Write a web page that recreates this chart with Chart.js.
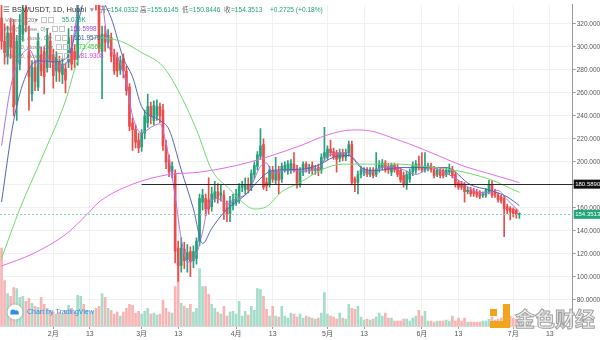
<!DOCTYPE html>
<html>
<head>
<meta charset="utf-8">
<script src="https://cdn.jsdelivr.net/npm/chart.js@4.4.1/dist/chart.umd.min.js"></script>
<style>
  html, body { margin: 0; padding: 0; background: #fff; }
  canvas { display: block; }
</style>
</head>
<body>
<canvas id="chart" width="600" height="340"></canvas>
<script>
const FONT = "'Liberation Sans', Arial, 'Noto Sans CJK SC', 'DejaVu Sans', sans-serif";

/* ===== BSV/USDT daily, Huobi — from 2020-01-15 ===== */
const opens = [
  325, 305, 292, 312, 319, 250, 285, 311, 334, 296,
  259, 282, 265, 293, 296, 282, 305, 293, 279, 287,
  276, 281, 287, 299, 296, 289, 345, 368, 362, 375,
  360, 366, 338, 296, 311, 304, 308, 293, 291, 280,
  290, 279, 265, 234, 228, 219, 213, 225, 234, 248,
  236, 240, 248, 245, 214, 202, 191, 190, 125, 110,
  124, 115, 122, 114, 116, 131, 165, 168, 167, 161,
  168, 174, 171, 171, 160, 155, 162, 165, 167, 178,
  176, 180, 178, 189, 196, 205, 215, 182, 181, 192,
  184, 192, 185, 194, 192, 193, 198, 194, 180, 191,
  198, 192, 197, 192.5, 195, 193, 204, 204, 211, 209,
  208, 203, 208, 204, 208, 215, 185, 182, 189, 191,
  192.5, 189, 192.5, 189, 194, 195, 199, 196, 191, 197,
  195, 192.5, 188, 180, 185, 191, 192.5, 198, 196, 193,
  194, 196.5, 193, 189, 193, 192.5, 189, 191, 193.5, 189,
  182, 181, 180.5, 174, 175.5, 174.5, 173.5, 173.7, 171, 171,
  174, 180.5, 173.5, 171, 169.5, 168, 161, 159.5, 159, 157.5,
  154.0332
];
const highs = [
  340, 320, 318, 325, 324, 310, 328, 342, 345, 318,
  288, 288, 312, 300, 300, 316, 312, 298, 296, 292,
  290, 286, 316, 310, 302, 360, 385, 392, 390, 385,
  380, 372, 342, 318, 318, 315, 312, 298, 295, 292,
  294, 283, 268, 238, 232, 225, 228, 245, 259, 252,
  253, 254, 251, 250, 219, 206, 200, 193, 131, 134,
  130, 128, 126, 127, 134, 172, 176, 172, 186, 178,
  183, 181, 180, 175, 166, 170, 172, 176, 181, 183,
  186, 186, 193, 200, 209, 229, 220, 186, 196, 196,
  204, 196, 199, 200, 201, 202, 208, 197, 195, 200,
  200, 198, 200, 197, 198, 207, 230, 214, 219, 212,
  210, 211, 211, 211, 218, 218, 187, 192, 196, 195,
  195, 195, 195, 208, 201, 202, 201, 199, 199, 199,
  198, 195, 191, 192, 194, 200, 201, 205, 208, 208,
  199, 199, 196, 195, 195, 194, 195, 198, 196, 191,
  184, 183, 182, 178, 178, 177, 176, 175, 174, 177,
  184, 184, 176, 173, 171, 170, 163, 161, 160, 159,
  155.6145
];
const lows = [
  298, 285, 285, 290, 240, 236, 280, 305, 313, 245,
  253, 262, 262, 275, 259, 278, 282, 264, 270, 270,
  268, 260, 282, 280, 282, 284, 338, 350, 352, 345,
  348, 332, 295, 255, 296, 299, 287, 276, 274, 276,
  273, 258, 227, 210, 212, 208, 209, 220, 230, 233,
  232, 236, 234, 210, 194, 187, 186, 112, 96, 104,
  107, 104, 100, 108, 111, 127, 158, 153, 155, 157,
  165, 164, 166, 150, 148, 148, 158, 162, 164, 174,
  172, 173, 175, 185, 193, 202, 176, 175, 178, 182,
  181, 172, 182, 191, 189, 190, 191, 177, 178, 188,
  191, 190, 189, 189, 188, 190, 201, 202, 205, 202,
  191, 200, 201, 201, 205, 180, 174, 172, 186, 188,
  187, 187, 186, 187, 191, 193, 191, 190, 188, 191,
  187, 182, 178, 176, 182, 188, 190, 193, 191, 191,
  192, 191, 186, 187, 186, 186, 187, 189, 186, 178,
  176, 176, 165, 172, 170, 170, 169, 168, 169, 169,
  172, 169, 169, 165, 164, 135, 155, 149.5, 152, 151,
  150.8446
];
const closes = [
  305, 295, 312, 300, 248, 305, 319, 330, 319, 274,
  282, 270, 305, 279, 274, 310, 288, 275, 291, 278,
  285, 271, 308, 285, 289, 345, 368, 362, 375, 360,
  366, 340, 300, 311, 304, 310, 292, 279, 279, 288,
  279, 262, 231, 228, 217, 212, 225, 240, 248, 240,
  249, 248, 240, 214, 200, 191, 196, 122, 110, 125,
  114, 121, 113, 122, 131, 168, 171, 159, 159, 172,
  174, 168, 173, 157, 155, 166, 167, 172, 179, 179.5,
  180, 176, 190, 197, 206, 214, 178, 179, 193, 185,
  192, 184, 196, 197, 198, 199, 194, 180, 192, 198,
  194, 195, 193, 194, 192, 204, 208, 211, 208, 205,
  202, 208, 204, 208, 215, 182, 182, 189, 193, 193,
  189, 192.5, 188, 194, 198, 199, 193, 193, 197, 193,
  189, 184, 180.5, 189, 191, 197, 198, 195, 193, 196.5,
  196.5, 193, 188, 192.5, 188, 188, 192.5, 193.5, 188, 180,
  178, 178, 174, 175.5, 172, 172.5, 171, 169.4, 172, 175.5,
  180, 171, 171, 167, 166, 159, 158, 156.5, 155, 154.0788,
  154.3513
];
// volume, thousands
const volumes = [
  553, 322, 231, 210, 273, 266, 203, 210, 175, 196,
  161, 140, 133, 203, 154, 126, 112, 98, 84, 98,
  84, 112, 147, 126, 98, 217, 210, 154, 112, 84,
  105, 126, 140, 231, 203, 126, 112, 84, 98, 70,
  98, 126, 154, 147, 91, 105, 84, 105, 126, 84,
  91, 77, 84, 182, 126, 98, 91, 280, 448, 161,
  140, 126, 154, 98, 126, 406, 280, 280, 224, 154,
  126, 98, 84, 140, 70, 98, 105, 84, 175, 70,
  105, 77, 140, 112, 266, 259, 210, 119, 70, 140,
  70, 63, 140, 70, 56, 91, 84, 63, 84, 56,
  70, 63, 56, 49, 56, 91, 238, 84, 70, 63,
  49, 91, 56, 49, 154, 126, 119, 140, 63, 42,
  49, 42, 49, 63, 91, 70, 91, 56, 56, 35,
  35, 35, 49, 49, 35, 56, 70, 112, 70, 105,
  35, 35, 28, 35, 35, 35, 42, 35, 70, 35,
  56, 35, 56, 28, 28, 28, 28, 28, 35, 35,
  49, 63, 42, 49, 56, 140, 63, 70, 56, 49,
  55.079
];

// moving averages: [day index, value]
const ma5 = [[0,214],[3,265],[6,290],[9,298],[12,285],[15,290],[18,283],[21,285],[23,300],[26,345],
  [30,360],[33,340],[35,302],[38,291],[41,268],[43,240],[46,225],[49,230],[52,233],[54,216],
  [57,170],[59,133],[61,113],[64,120],[66,139],[68,163],[71,168],[74,163],[77,168],[81,174],
  [85,196],[87,199],[89,190],[94,193],[98,192],[104,194],[107,205],[113,208],[117,199],[120,190],
  [126,196],[131,194],[136,189],[141,195],[146,190],[150,184],[155,175],[159,173],[163,175],[166,167],
  [170,156.5998]];
const ma10 = [[0,165],[4,236],[8,275],[12,288],[17,287],[22,292],[25,320],[28,345],[33,340],[36,325],
  [40,290],[43,274],[46,248],[52,236],[55,228],[59,193],[63,159],[66,129],[69,142],[73,156],
  [77,165],[80,171],[86,188],[89,192.5],[98,193.5],[104,197],[109,204],[114,205.5],[118,195],[123,192.5],
  [131,195],[146,195],[154,180],[160,175.5],[166,169.5],[170,161.9579]];
const ma30 = [[0,116],[6,159],[14,208],[21,253],[25,288],[31,308],[39,305],[46,295],[53,283],[58,262],
  [64,228],[69,193],[75,176],[79,165],[83,159],[87,161],[92,174],[98,182],[105,193],[112,198],
  [131,198],[135,197],[149,192.5],[160,185],[170,173.4566]];
const ma60 = [[0,109.4],[10,119.7],[21,136.8],[28,154],[32,165],[43,180.5],[55,189],[65,191],[81,199.4],
  [98,214],[107,223.4],[115,227.7],[118,227.7],[131,218.3],[141,208],[151,197],[162,188.2],[170,181.9308]];

const priceTicks = [80, 100, 120, 140, 160, 180, 200, 220, 240, 260, 280, 300, 320];
const tickDays   = ['2/1', '2/13', '3/1', '3/13', '4/1', '4/13', '5/1', '5/13', '6/1', '6/13', '7/1', '7/13'];
const tickText   = ['2月', '13', '3月', '13', '4月', '13', '5月', '13', '6月', '13', '7月', '13'];

const LEVEL = 180.589;      // drawn horizontal
const LEVEL_FROM = '3/1';
const LAST_CLOSE = closes[closes.length - 1];

// one slot per day, Jan 15 .. Jul 20 (empty room on the right)
const days = [];
for (let i = 0; i < 188; i++) {
  const d = new Date(2020, 0, 15 + i);
  days.push(`${d.getMonth() + 1}/${d.getDate()}`);
}

const UP = '#26a17c', DOWN = '#ee4b4b';
const VOL_UP = '#a5dcca', VOL_DOWN = '#f7b5b5';
const isUp = closes.map((c, i) => c >= opens[i]);

const maLine = (pts, color) => ({
  type: 'line',
  data: pts.map(([d, v]) => ({ x: days[d], y: v })),
  borderColor: color,
  borderWidth: 1,
  pointRadius: 0,
  cubicInterpolationMode: 'monotone',
  yAxisID: 'y',
  order: 1,
});

/* ===== overlay: lines, tags, legend, badges ===== */
const overlay = {
  id: 'overlay',
  afterDatasetsDraw(chart) {
    const { ctx, chartArea: a, scales: { x, y } } = chart;
    ctx.save();
    const yp = Math.round(y.getPixelForValue(LAST_CLOSE)) + 0.5;
    ctx.strokeStyle = '#7fd3bb';
    ctx.lineWidth = 1;
    ctx.setLineDash([2, 2]);
    ctx.beginPath(); ctx.moveTo(a.left, yp); ctx.lineTo(a.right, yp); ctx.stroke();

    const yl = Math.round(y.getPixelForValue(LEVEL)) + 0.5;
    ctx.setLineDash([]);
    ctx.strokeStyle = '#2b2b2b';
    ctx.lineWidth = 1.2;
    ctx.beginPath(); ctx.moveTo(x.getPixelForValue(days.indexOf(LEVEL_FROM)), yl); ctx.lineTo(a.right, yl); ctx.stroke();
    ctx.restore();
  },
  afterDraw(chart) {
    const { ctx, chartArea: a, scales: { y } } = chart;
    ctx.save();
    ctx.textBaseline = 'middle';

    // price tags on the axis
    const tag = (v, bg) => {
      const py = y.getPixelForValue(v);
      ctx.fillStyle = bg;
      ctx.fillRect(a.right + 1, py - 4.5, 27, 9);
      ctx.fillStyle = '#fff';
      ctx.font = `6px ${FONT}`;
      ctx.fillText(v.toFixed(4), a.right + 2.5, py + 0.5);
    };
    tag(LEVEL, '#111');
    tag(LAST_CLOSE, '#22a57a');

    // header
    ctx.font = `7.5px ${FONT}`;
    ctx.fillStyle = '#666';
    ctx.fillText('☰', 3, 10);
    ctx.fillStyle = '#333';
    ctx.fillText('BSV/USDT, 1D, Huobi', 12, 10);
    ctx.fillStyle = '#999';
    ctx.fillText('▾', 90, 10);
    ctx.font = `6.6px ${FONT}`;
    const ohlc = [['开', 100, opens], ['高', 140, highs], ['低', 182, lows], ['收', 224, closes]];
    ohlc.forEach(([k, px, arr]) => {
      ctx.fillStyle = '#666';
      ctx.fillText(k, px, 10);
      ctx.fillStyle = '#22a57a';
      ctx.fillText('=' + arr[arr.length - 1].toFixed(4), px + 7, 10);
    });
    const prev = closes[closes.length - 2];
    const chg = LAST_CLOSE - prev;
    ctx.fillText(`+${chg.toFixed(4)} (+${(chg / prev * 100).toFixed(2)}%)`, 270, 10);

    // indicator rows: label, value, colour, caret x, value x, row y
    const rows = [
      ['Volume (20)', '55.079K', '#22a57a', 35, 62, 20],
      ['MA (5, close, 0)', '156.5998', '#9b4fdc', 46, 70, 29],
      ['MA (10, close, 0)', '161.9579', '#3b4f9e', 49, 74, 38],
      ['MA (30, close, 0)', '173.4566', '#3cc43c', 50, 75, 47],
      ['MA (60, close, 0)', '181.9308', '#e040e0', 51, 77, 56],
    ];
    rows.forEach(([label, val, col, cx, vx, ry]) => {
      ctx.fillStyle = '#888';
      ctx.font = `5.8px ${FONT}`;
      ctx.fillText(label, 5, ry);
      ctx.fillText('▾', cx, ry);
      ctx.strokeStyle = '#c4c4c4';
      ctx.lineWidth = 1;
      ctx.strokeRect(cx + 6.5, ry - 2.5, 5, 5);
      ctx.strokeRect(cx + 13.5, ry - 2.5, 5, 5);
      ctx.fillStyle = col;
      ctx.font = `6.4px ${FONT}`;
      ctx.fillText(val, vx, ry);
    });

    // TradingView badge
    ctx.shadowColor = 'rgba(0,0,0,0.25)';
    ctx.shadowBlur = 3;
    ctx.fillStyle = '#fff';
    ctx.beginPath(); ctx.arc(15, 312, 7.5, 0, Math.PI * 2); ctx.fill();
    ctx.shadowBlur = 0;
    ctx.fillStyle = '#2d8ee8';
    ctx.beginPath();
    ctx.arc(13, 312, 2.6, Math.PI, 0);
    ctx.arc(16.5, 312.5, 2.2, Math.PI * 1.2, 0);
    ctx.lineTo(18.7, 314.5); ctx.lineTo(10.4, 314.5); ctx.closePath(); ctx.fill();
    ctx.font = `7px ${FONT}`;
    ctx.fillStyle = '#2d8ee8';
    ctx.fillText('Chart by TradingView', 27, 312.5);

    // 金色财经 mark
    ctx.fillStyle = '#f2a51a';
    ctx.fillRect(503, 304, 7, 24);
    ctx.fillRect(490, 321, 20, 7);
    ctx.fillRect(490, 309, 7, 7);
    ctx.font = `bold 20px 'Noto Sans CJK SC', sans-serif`;
    ctx.fillStyle = 'rgba(240,240,240,0.95)';
    ctx.strokeStyle = '#a0a0a0';
    ctx.lineWidth = 1;
    ctx.fillText('金色财经', 515, 319);
    ctx.strokeText('金色财经', 515, 319);
    ctx.restore();
  }
};

new Chart(document.getElementById('chart'), {
  type: 'bar',
  data: {
    labels: days,
    datasets: [
      {
        data: volumes,
        yAxisID: 'yv',
        backgroundColor: isUp.map(u => u ? VOL_UP : VOL_DOWN),
        barThickness: 2,
        grouped: false,
        order: 5,
      },
      {
        data: lows.map((l, i) => [l, highs[i]]),
        yAxisID: 'y',
        backgroundColor: isUp.map(u => u ? UP : DOWN),
        barThickness: 1,
        grouped: false,
        order: 4,
      },
      {
        data: opens.map((o, i) => [o, closes[i]]),
        yAxisID: 'y',
        backgroundColor: isUp.map(u => u ? UP : DOWN),
        barThickness: 2,
        minBarLength: 1,
        grouped: false,
        order: 3,
      },
      maLine(ma60, '#e86be8'),
      maLine(ma30, '#6ddc6d'),
      maLine(ma10, '#5866b5'),
      maLine(ma5, '#b074e4'),
    ]
  },
  options: {
    responsive: false,
    devicePixelRatio: 1,
    animation: false,
    layout: { padding: 0 },
    plugins: { legend: { display: false }, tooltip: { enabled: false } },
    scales: {
      x: {
        offset: true,
        afterBuildTicks: s => { s.ticks = tickDays.map(d => ({ value: days.indexOf(d) })); },
        afterFit: s => { s.height = 14; },
        ticks: {
          autoSkip: false, maxRotation: 0, padding: 1,
          color: '#555', font: { size: 7, family: FONT },
          callback: (v, i) => tickText[i],
        },
        grid: { offset: false, color: '#f1f1f1', tickColor: '#999', tickLength: 3 },
        border: { color: '#d8d8d8' },
      },
      y: {
        position: 'right',
        min: 57.2, max: 336.5,
        afterBuildTicks: s => { s.ticks = priceTicks.map(v => ({ value: v })); },
        afterFit: s => { s.width = 27.3; },
        ticks: {
          padding: 1, color: '#555', font: { size: 6.5, family: FONT },
          callback: v => v.toFixed(4),
        },
        grid: { color: '#f1f1f1', tickColor: '#999', tickLength: 3 },
        border: { color: '#999' },
      },
      yv: { display: false, min: 0, max: 2280 },
    }
  },
  plugins: [overlay]
});
</script>
</body>
</html>
